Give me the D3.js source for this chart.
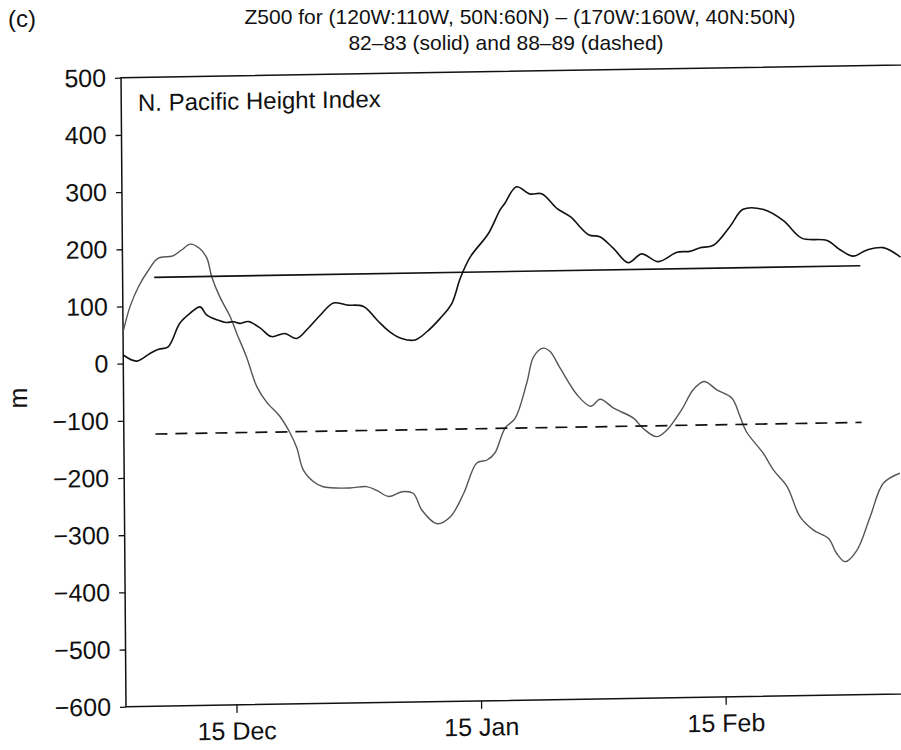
<!DOCTYPE html>
<html>
<head>
<meta charset="utf-8">
<script src="https://cdn.jsdelivr.net/npm/d3@7"></script>
<style>
  body { margin: 0; background: #fff; }
  svg { display: block; }
  text { font-family: "Liberation Sans", Arial, Helvetica, sans-serif; fill: #111; }
</style>
</head>
<body>
<svg id="chart" width="901" height="750"></svg>
<script>
// days counted from 1 Dec, values in m
const daysA = [0, 1.7, 3.4, 4.5, 5.7, 7.2, 8.5, 9.8, 10.6, 11.9, 13.1, 14.0, 14.8, 15.9, 17.4,
  18.8, 20.5, 22.0, 23.5, 25.0, 26.7, 28.4, 30.5, 32.2, 33.8, 35.3, 37.0, 38.5, 40.2, 41.7,
  42.8, 44.1, 46.4, 47.9, 48.5, 50.0, 51.7, 53.2, 55.1, 56.8, 59.1, 60.5, 62.2, 64.1, 65.8,
  67.9, 70.3, 71.9, 73.2, 74.9, 77.0, 78.7, 81.3, 83.8, 86.1, 89.3, 91.0, 92.6, 94.3, 96.4, 98.6];
const valuesA = [15, 4, 17, 24, 28, 69, 86, 97, 83, 74, 69, 70, 67, 70, 58,
  43, 48, 39, 57, 79, 100, 96, 93, 69, 48, 36, 33, 47, 70, 96,
  140, 177, 217, 258, 269, 298, 285, 285, 259, 244, 212, 208, 188, 162, 177,
  163, 179, 180, 186, 190, 222, 252, 251, 231, 200, 195, 178, 167, 177, 181, 164];

const daysB = [0, 0.9, 2.0, 3.3, 4.5, 6.4, 7.5, 8.6, 9.8, 10.7, 11.3, 12.3, 13.6, 14.4, 15.6,
  16.9, 18.1, 19.8, 21.1, 21.9, 22.7, 24.0, 25.2, 28.6, 30.7, 32.0, 33.5, 35.2, 36.6, 37.7,
  39.6, 41.3, 43.0, 44.7, 46.0, 47.0, 48.3, 49.6, 51.1, 52.0, 53.2, 54.1, 55.3, 57.5, 59.2,
  60.4, 62.1, 64.6, 65.8, 67.5, 68.8, 70.7, 72.2, 73.6, 75.2, 77.1, 78.1, 78.9, 81.0, 82.3,
  84.0, 85.6, 87.3, 89.2, 90.2, 91.3, 92.8, 94.5, 96.2, 98.3];
const valuesB = [55, 99, 134, 163, 183, 187, 197, 207, 199, 182, 149, 114, 79, 50, 9,
  -44, -71, -97, -127, -152, -191, -212, -221, -224, -222, -229, -240, -232, -235, -265,
  -289, -277, -237, -184, -179, -167, -124, -107, -46, 0, 15, 9, -19, -68, -88,
  -76, -92, -110, -128, -143, -132, -97, -62, -48, -63, -78, -110, -137, -175, -205,
  -234, -287, -311, -326, -352, -367, -347, -289, -231, -214];

// winter means (82-83 solid, 88-89 dashed)
const meanDays = [4, 93.5];
const meanA = 150;
const meanB = -124;

const yTicks = [500, 400, 300, 200, 100, 0, -100, -200, -300, -400, -500, -600];
const xTickDays = [14, 45, 76];
const xTickLabels = ["15 Dec", "15 Jan", "15 Feb"];

const height = 629;
const pxPerDay = 7.89;

const svg = d3.select("#chart");

// the scanned figure is slightly skewed, so the whole plot is too
const g = svg.append("g")
    .attr("transform", "translate(126,706.7) matrix(1,-0.0164,0.0079,1,0,0) translate(0,-629)");

const xScale = d3.scaleLinear().domain([0, 120]).range([0, 120 * pxPerDay]);
const yScale = d3.scaleLinear().domain([-600, 500]).range([height, 0]);

// axes
const yAxis = g.append("g")
    .call(d3.axisLeft(yScale).tickValues(yTicks).tickSize(6).tickPadding(9));
const xAxis = g.append("g")
    .attr("transform", `translate(0,${height})`)
    .call(d3.axisBottom(xScale).tickValues(xTickDays)
        .tickFormat((d, i) => xTickLabels[i]).tickSize(8).tickPadding(9));

[yAxis, xAxis].forEach(a => {
    a.select(".domain").remove();
    a.selectAll("line").attr("stroke", "#111").attr("stroke-width", 1.3);
    a.selectAll("text").attr("font-size", 25).attr("fill", "#111");
});

// frame
g.append("rect")
    .attr("x", 0).attr("y", 0)
    .attr("width", xScale(120)).attr("height", height)
    .attr("fill", "none").attr("stroke", "#111").attr("stroke-width", 1.5);

// series
const line = d3.line()
    .x(d => xScale(d[0]))
    .y(d => yScale(d[1]))
    .curve(d3.curveCatmullRom.alpha(0.5));

g.append("path")
    .datum(daysB.map((d, i) => [d, valuesB[i]]))
    .attr("d", line)
    .attr("fill", "none")
    .attr("stroke", "#555")
    .attr("stroke-width", 1.4);

g.append("path")
    .datum(daysA.map((d, i) => [d, valuesA[i]]))
    .attr("d", line)
    .attr("fill", "none")
    .attr("stroke", "#111")
    .attr("stroke-width", 1.6);

// mean lines
g.append("line")
    .attr("x1", xScale(meanDays[0])).attr("x2", xScale(meanDays[1]))
    .attr("y1", yScale(meanA)).attr("y2", yScale(meanA))
    .attr("stroke", "#111").attr("stroke-width", 1.7);

g.append("line")
    .attr("x1", xScale(meanDays[0])).attr("x2", xScale(meanDays[1]))
    .attr("y1", yScale(meanB)).attr("y2", yScale(meanB))
    .attr("stroke", "#111").attr("stroke-width", 1.7)
    .attr("stroke-dasharray", "12,8");

// texts
g.append("text")
    .attr("x", 16.7).attr("y", 33.6)
    .attr("font-size", 24)
    .text("N. Pacific Height Index");

// title sits above the skewed plot, kept level
svg.append("text")
    .attr("x", 520).attr("y", 24)
    .attr("text-anchor", "middle")
    .attr("font-size", 21)
    .text("Z500 for (120W:110W, 50N:60N) – (170W:160W, 40N:50N)");

svg.append("text")
    .attr("x", 506).attr("y", 50)
    .attr("text-anchor", "middle")
    .attr("font-size", 21)
    .text("82–83 (solid) and 88–89 (dashed)");

svg.append("text")
    .attr("x", 8).attr("y", 27)
    .attr("font-size", 24)
    .text("(c)");

svg.append("text")
    .attr("transform", "translate(27,398) rotate(-90)")
    .attr("text-anchor", "middle")
    .attr("font-size", 25)
    .text("m");
</script>
</body>
</html>
